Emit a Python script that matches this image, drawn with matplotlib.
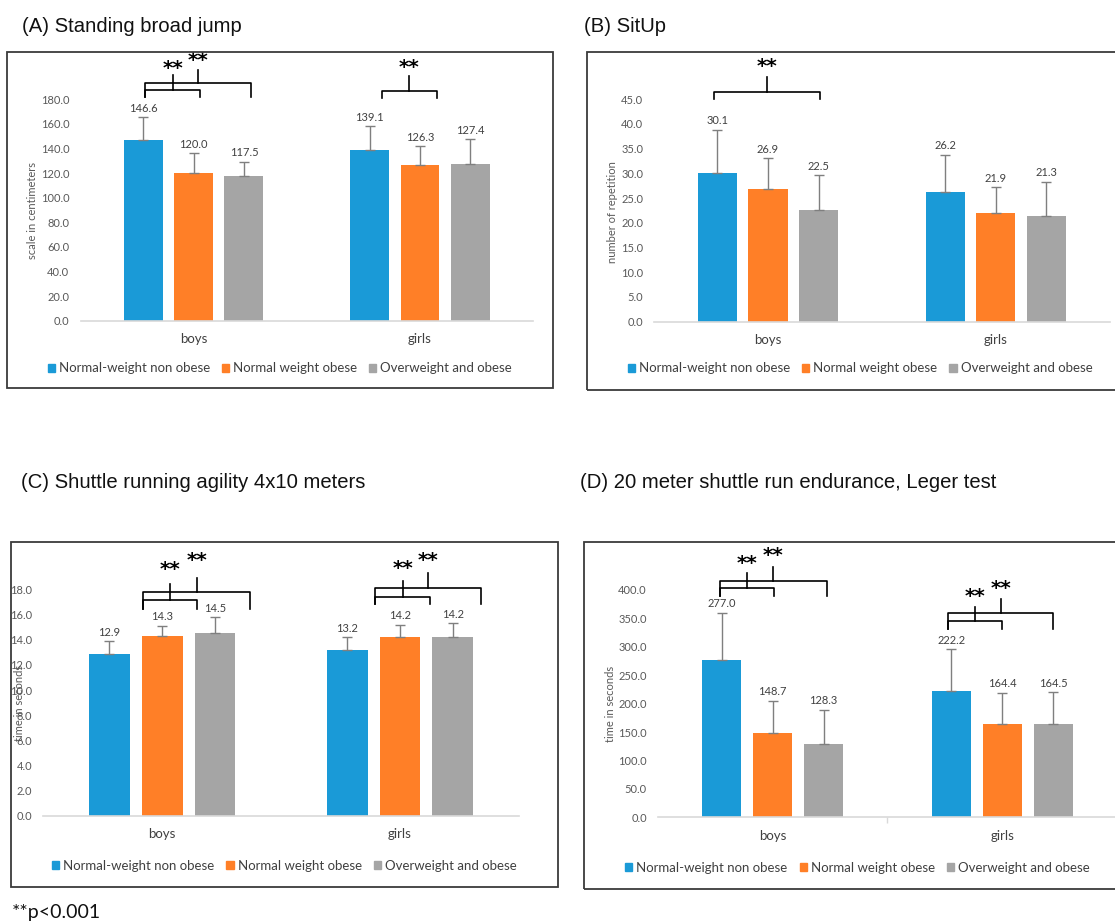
import matplotlib
matplotlib.use('Agg')
import matplotlib.pyplot as plt
from matplotlib.patches import Rectangle, Patch

W, H = 1115, 922

groups = ['boys', 'girls']
series = ['Normal-weight non obese', 'Normal weight obese', 'Overweight and obese']
colors = ['#1A9AD7', '#FF7F27', '#A5A5A5']

# means and SDs, one row per series (boys, girls)
jump_mean = [[146.6, 139.1], [120.0, 126.3], [117.5, 127.4]]
jump_sd = [[18.7, 19.1], [16.0, 15.4], [11.9, 20.2]]

situp_mean = [[30.1, 26.2], [26.9, 21.9], [22.5, 21.3]]
situp_sd = [[8.7, 7.6], [6.2, 5.3], [7.1, 7.0]]

agility_mean = [[12.9, 13.2], [14.3, 14.2], [14.5, 14.2]]
agility_sd = [[1.0, 1.0], [0.8, 1.0], [1.3, 1.1]]

leger_mean = [[277.0, 222.2], [148.7, 164.4], [128.3, 164.5]]
leger_sd = [[83.1, 73.4], [56.6, 55.0], [60.6, 55.5]]

# significance brackets: x_left, x_right, y_line, y_hook, x_tick, y_tick_top, y_star
jump_brackets = [(-0.215, 0.028, 187.5, 181.6, -0.093, 199.7, 205.1),
                 (-0.215, 0.252, 193.0, 181.6, 0.018, 203.5, 211.4),
                 (0.833, 1.077, 187.0, 180.7, 0.953, 198.9, 206.0)]
situp_brackets = [(-0.236, 0.228, 46.56, 45.07, -0.004, 49.46, 51.6)]
agility_brackets = [(-0.082, 0.145, 17.15, 16.44, 0.033, 18.44, 19.58),
                    (-0.082, 0.369, 17.79, 16.44, 0.145, 18.88, 20.30),
                    (0.895, 1.126, 17.42, 16.83, 1.011, 18.66, 19.66),
                    (0.895, 1.341, 18.08, 16.83, 1.116, 19.33, 20.33)]
leger_brackets = [(-0.229, 0.007, 402.9, 389.4, -0.112, 429.3, 446.9),
                  (-0.229, 0.235, 415.8, 389.4, 0.0, 441.0, 459.8),
                  (0.762, 1.0, 346.0, 331.4, 0.881, 370.7, 388.3),
                  (0.762, 1.222, 358.9, 331.4, 0.993, 383.6, 402.9)]

plt.rcParams['font.family'] = ['Lato', 'DejaVu Sans']

fig = plt.figure(figsize=(W / 100, H / 100), dpi=100)


def fx(x):
    return x / W


def fy(y):
    return 1 - y / H


def panel(title, title_xy, box, axpos, y0, ppu, ytop, yticks, ylabel, ylab_xy,
          means, sds, brackets, legend_y, divider=False):
    # chart area frame
    bx0, by0, bx1, by1 = box
    fig.add_artist(Rectangle((fx(bx0), fy(by1)), (bx1 - bx0) / W, (by1 - by0) / H,
                             transform=fig.transFigure, fill=False,
                             ec='#3a3a3a', lw=1.3))
    fig.text(fx(title_xy[0]), fy(title_xy[1]), title, fontsize=14.6,
             family='Liberation Sans', color='#111111', va='baseline')

    ax_x0, ax_x1 = axpos
    top = y0 - ytop * ppu
    ax = fig.add_axes([fx(ax_x0), fy(y0), (ax_x1 - ax_x0) / W, (y0 - top) / H])

    off, bw = 0.222, 0.172
    for i in range(3):
        xs = [g + (i - 1) * off for g in range(len(groups))]
        ax.bar(xs, means[i], width=bw, color=colors[i], zorder=2)
        ax.errorbar(xs, means[i], yerr=[[0] * len(groups), sds[i]], fmt='none',
                    ecolor='#7f7f7f', elinewidth=1.0, capsize=3.5, capthick=1.0,
                    zorder=3)
        for x, m, s in zip(xs, means[i], sds[i]):
            ax.annotate(f'{m:.1f}', (x, m + s), xytext=(0, 2.5),
                        textcoords='offset points', ha='center', va='bottom',
                        fontsize=8, color='#404040')

    for xl, xr, yl, yh, xt, yt, ys in brackets:
        ax.plot([xl, xl, xr, xr], [yh, yl, yl, yh], color='black', lw=1.2,
                clip_on=False, zorder=4)
        ax.plot([xt, xt], [yl, yt], color='black', lw=1.2, clip_on=False, zorder=4)
        ax.text(xt, ys, '**', ha='center', va='center', fontsize=14.5,
                family='DejaVu Sans', fontweight='bold', color='black')

    ax.set_xlim(-0.5, 1.5)
    ax.set_ylim(0, ytop)
    ax.set_yticks(yticks)
    ax.set_yticklabels([f'{t:.1f}' for t in yticks])
    ax.set_xticks(range(len(groups)))
    ax.set_xticklabels(groups)
    ax.tick_params(axis='y', length=0, pad=8, labelsize=8, labelcolor='#595959')
    ax.tick_params(axis='x', length=0, pad=9, labelsize=9.5, labelcolor='#404040')
    if divider:
        ax.set_xticks([0.5], minor=True)
        ax.tick_params(axis='x', which='minor', length=4, color='#d9d9d9', width=1)
    for s in ['top', 'right', 'left']:
        ax.spines[s].set_visible(False)
    ax.spines['bottom'].set_color('#d9d9d9')
    ax.spines['bottom'].set_linewidth(1.2)
    ax.patch.set_alpha(0)

    fig.text(fx(ylab_xy[0]), fy(ylab_xy[1]), ylabel, rotation=90, ha='center',
             va='center', fontsize=8, color='#595959')

    handles = [Patch(color=c) for c in colors]
    fig.legend(handles, series, loc='center',
               bbox_to_anchor=(fx((bx0 + bx1) / 2), fy(legend_y)), ncol=3,
               frameon=False, fontsize=9.5, handlelength=0.55, handleheight=0.55,
               handletextpad=0.3, columnspacing=0.9, labelcolor='#404040')
    return ax


panel('(A) Standing broad jump', (22, 32.5), (6.7, 51.7, 553, 388.3), (80.5, 533.2),
      320.7, 1.230, 215, [0, 20, 40, 60, 80, 100, 120, 140, 160, 180],
      'scale in centimeters', (32.3, 210.3), jump_mean, jump_sd, jump_brackets, 368.3)

panel('(B) SitUp', (584, 32.5), (587, 52.3, 1133, 390), (654.2, 1109.5),
      321.7, 4.943, 54, [0, 5, 10, 15, 20, 25, 30, 35, 40, 45],
      'number of repetition', (612.4, 211.7), situp_mean, situp_sd, situp_brackets, 368.5)

panel('(C) Shuttle running agility 4x10 meters', (21, 488), (10.7, 541.7, 558, 886.7),
      (43.3, 518.9), 815.7, 12.57, 21.5, [0, 2, 4, 6, 8, 10, 12, 14, 16, 18],
      'time in seconds', (20, 703.3), agility_mean, agility_sd, agility_brackets, 866)

panel('(D) 20 meter shuttle run endurance, Leger test', (580, 488),
      (584, 542.3, 1131, 889.3), (657.9, 1117.1), 817.3, 0.5683, 480,
      [0, 50, 100, 150, 200, 250, 300, 350, 400],
      'time in seconds', (610, 704), leger_mean, leger_sd, leger_brackets, 868,
      divider=True)

fig.text(fx(12), fy(918), '**p<0.001', fontsize=14, color='#111111', va='baseline')

fig.savefig('out.png', dpi=100)
